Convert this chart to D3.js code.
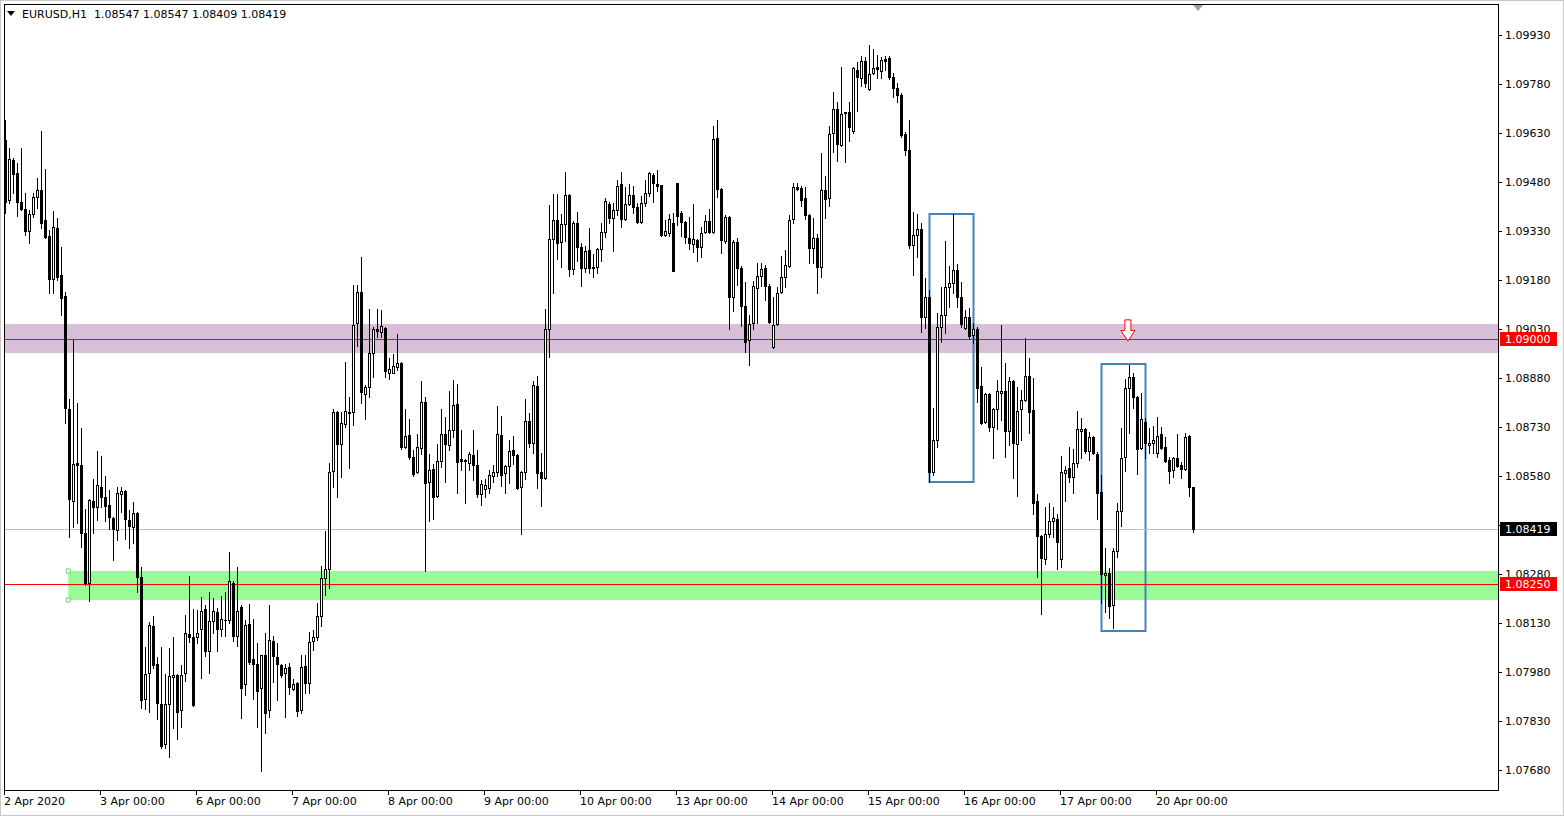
<!DOCTYPE html>
<html><head><meta charset="utf-8">
<script src="https://cdn.jsdelivr.net/npm/d3@7"></script>
<style>
body{margin:0;background:#fff;overflow:hidden}
svg{display:block}
text{font-family:"DejaVu Sans",sans-serif;font-size:11px;white-space:pre}
</style></head>
<body><svg id="chart" width="1564" height="816"></svg>
<script>
const symbol = "EURUSD";
const timeframe = "H1";
const barsPerDay = 24;
const timeLabels = ["2 Apr 2020","3 Apr 00:00","6 Apr 00:00","7 Apr 00:00","8 Apr 00:00","9 Apr 00:00","10 Apr 00:00","13 Apr 00:00","14 Apr 00:00","15 Apr 00:00","16 Apr 00:00","17 Apr 00:00","20 Apr 00:00"];
const priceTicks = [1.07680,1.07830,1.07980,1.08130,1.08280,1.08430,1.08580,1.08730,1.08880,1.09030,1.09180,1.09330,1.09480,1.09630,1.09780,1.09930];

const opens = [
1.09609,1.09425,1.09547,1.09507,1.09419,1.09397,1.09330,1.09382,1.09434,1.09455,
1.09364,1.09315,1.09183,1.09339,1.09195,1.09131,1.08785,1.08503,1.08620,1.08614,
1.08406,1.08252,1.08503,1.08485,1.08546,1.08516,1.08491,1.08451,1.08415,1.08525,
1.08534,1.08445,1.08424,1.08467,1.08271,1.07897,1.07977,1.08121,1.08005,1.07882,
1.07760,1.07882,1.07965,1.07971,1.07864,1.07977,1.08096,1.08087,1.08087,1.08112,
1.08173,1.08044,1.08136,1.08164,1.08112,1.08139,1.08139,1.08252,1.08090,1.08179,
1.07943,1.08127,1.08020,1.08005,1.07931,1.08032,1.07864,1.08075,1.08026,1.08001,
1.07977,1.07995,1.07928,1.07946,1.07864,1.07998,1.07946,1.08075,1.08087,1.08151,
1.08268,1.08295,1.08595,1.08776,1.08678,1.08739,1.08776,1.08776,1.09048,1.09143,
1.08831,1.08852,1.08956,1.09030,1.09021,1.09033,1.08895,1.08895,1.08914,1.08926,
1.08669,1.08706,1.08638,1.08592,1.08666,1.08807,1.08562,1.08601,1.08519,1.08626,
1.08709,1.08675,1.08721,1.08800,1.08632,1.08629,1.08620,1.08644,1.08614,1.08525,
1.08540,1.08543,1.08580,1.08592,1.08706,1.08589,1.08611,1.08660,1.08644,1.08546,
1.08592,1.08748,1.08681,1.08855,1.08592,1.08574,1.09030,1.09305,1.09364,1.09296,
1.09351,1.09440,1.09214,1.09354,1.09281,1.09217,1.09272,1.09220,1.09220,1.09275,
1.09327,1.09413,1.09370,1.09394,1.09474,1.09367,1.09413,1.09440,1.09403,1.09357,
1.09416,1.09446,1.09501,1.09474,1.09471,1.09318,1.09324,1.09354,1.09477,1.09385,
1.09357,1.09308,1.09290,1.09302,1.09281,1.09327,1.09361,1.09327,1.09615,1.09459,
1.09299,1.09373,1.09128,1.09296,1.09217,1.09100,1.08996,1.09048,1.09155,1.09192,
1.09217,1.09162,1.08975,1.09045,1.09143,1.09189,1.09223,1.09367,1.09465,1.09462,
1.09431,1.09379,1.09278,1.09308,1.09220,1.09455,1.09431,1.09630,1.09703,1.09593,
1.09691,1.09694,1.09636,1.09823,1.09798,1.09850,1.09765,1.09814,1.09832,1.09820,
1.09856,1.09860,1.09801,1.09768,1.09746,1.09627,1.09578,1.09287,1.09318,1.09336,
1.09067,1.09128,1.08592,1.08690,1.09036,1.09073,1.09158,1.09171,1.09210,1.09128,
1.09033,1.09067,1.09012,1.09030,1.08855,1.08745,1.08831,1.08730,1.08785,1.08834,
1.08840,1.08718,1.08871,1.08678,1.08785,1.08813,1.08886,1.08782,1.08503,1.08396,
1.08326,1.08402,1.08442,1.08448,1.08326,1.08589,1.08605,1.08577,1.08620,1.08718,
1.08724,1.08657,1.08699,1.08647,1.08531,1.08277,1.08283,1.08185,1.08350,1.08473,
1.08638,1.08849,1.08883,1.08822,1.08666,1.08745,1.08675,1.08681,1.08650,1.08709,
1.08669,1.08629,1.08598,1.08635,1.08614,1.08601,1.08702,1.08547];

const highs = [
1.09670,1.09584,1.09553,1.09538,1.09584,1.09446,1.09394,1.09446,1.09492,1.09636,
1.09520,1.09333,1.09391,1.09370,1.09281,1.09143,1.08816,1.08999,1.08803,1.08727,
1.08479,1.08510,1.08571,1.08657,1.08641,1.08580,1.08537,1.08455,1.08546,1.08546,
1.08537,1.08476,1.08500,1.08470,1.08301,1.08057,1.08133,1.08151,1.08026,1.08057,
1.07974,1.08054,1.08087,1.07974,1.08001,1.08155,1.08274,1.08173,1.08170,1.08210,
1.08185,1.08225,1.08207,1.08176,1.08213,1.08225,1.08347,1.08259,1.08301,1.08185,
1.08139,1.08188,1.08142,1.08069,1.08032,1.08099,1.08185,1.08090,1.08069,1.08005,
1.08005,1.08008,1.07959,1.07949,1.08032,1.08032,1.08102,1.08109,1.08191,1.08304,
1.08412,1.08620,1.08785,1.08779,1.08776,1.08929,1.08822,1.09165,1.09165,1.09250,
1.08859,1.09091,1.09036,1.09091,1.09088,1.09036,1.08941,1.08953,1.09015,1.08929,
1.08785,1.08754,1.08660,1.08709,1.08871,1.08822,1.08647,1.08617,1.08678,1.08785,
1.08761,1.08840,1.08874,1.08862,1.08721,1.08632,1.08653,1.08721,1.08660,1.08568,
1.08571,1.08598,1.08614,1.08794,1.08764,1.08614,1.08690,1.08702,1.08647,1.08595,
1.08816,1.08773,1.08871,1.08886,1.08650,1.09091,1.09410,1.09443,1.09443,1.09382,
1.09511,1.09443,1.09361,1.09388,1.09293,1.09284,1.09339,1.09260,1.09278,1.09354,
1.09431,1.09420,1.09416,1.09486,1.09511,1.09465,1.09474,1.09468,1.09416,1.09437,
1.09486,1.09510,1.09507,1.09517,1.09471,1.09364,1.09382,1.09385,1.09477,1.09391,
1.09361,1.09373,1.09413,1.09305,1.09342,1.09379,1.09397,1.09651,1.09670,1.09462,
1.09379,1.09376,1.09302,1.09308,1.09223,1.09174,1.09073,1.09177,1.09232,1.09232,
1.09226,1.09168,1.09128,1.09158,1.09253,1.09272,1.09379,1.09477,1.09477,1.09468,
1.09465,1.09382,1.09370,1.09321,1.09569,1.09498,1.09651,1.09755,1.09725,1.09832,
1.09694,1.09725,1.09832,1.09847,1.09866,1.09863,1.09899,1.09887,1.09869,1.09863,
1.09866,1.09866,1.09814,1.09783,1.09752,1.09633,1.09670,1.09388,1.09382,1.09354,
1.09186,1.09149,1.08788,1.09079,1.09158,1.09299,1.09223,1.09382,1.09229,1.09174,
1.09088,1.09094,1.09048,1.09036,1.08914,1.08834,1.08834,1.08788,1.08874,1.09042,
1.08926,1.08883,1.08874,1.08852,1.08843,1.09002,1.08941,1.08880,1.08525,1.08399,
1.08485,1.08497,1.08485,1.08464,1.08641,1.08611,1.08669,1.08663,1.08779,1.08758,
1.08727,1.08715,1.08702,1.08653,1.08583,1.08360,1.08298,1.08360,1.08497,1.08727,
1.08877,1.08920,1.08895,1.08825,1.08834,1.08758,1.08727,1.08733,1.08761,1.08730,
1.08699,1.08638,1.08638,1.08709,1.08623,1.08712,1.08706,1.08547];

const lows = [
1.09385,1.09416,1.09446,1.09376,1.09394,1.09318,1.09293,1.09373,1.09400,1.09339,
1.09308,1.09140,1.09140,1.09180,1.09073,1.08742,1.08393,1.08424,1.08436,1.08363,
1.08246,1.08197,1.08406,1.08445,1.08485,1.08442,1.08418,1.08323,1.08384,1.08470,
1.08387,1.08360,1.08375,1.08225,1.07870,1.07867,1.07858,1.07992,1.07836,1.07747,
1.07747,1.07720,1.07809,1.07775,1.07812,1.07953,1.08072,1.07876,1.08069,1.07962,
1.08029,1.07977,1.08099,1.08044,1.08090,1.08090,1.08130,1.08075,1.08060,1.07839,
1.07910,1.08005,1.07897,1.07812,1.07678,1.07793,1.07842,1.07949,1.07894,1.07965,
1.07842,1.07913,1.07925,1.07845,1.07855,1.07916,1.07916,1.08047,1.08078,1.08121,
1.08216,1.08237,1.08546,1.08516,1.08577,1.08730,1.08605,1.08736,1.08978,1.08803,
1.08754,1.08822,1.08883,1.09005,1.09005,1.08883,1.08877,1.08895,1.08904,1.08663,
1.08666,1.08632,1.08580,1.08589,1.08647,1.08289,1.08442,1.08448,1.08516,1.08608,
1.08562,1.08660,1.08699,1.08528,1.08598,1.08497,1.08598,1.08568,1.08516,1.08491,
1.08516,1.08528,1.08562,1.08580,1.08549,1.08528,1.08559,1.08617,1.08540,1.08402,
1.08571,1.08669,1.08650,1.08543,1.08488,1.08571,1.08944,1.09140,1.09244,1.09220,
1.09299,1.09192,1.09198,1.09238,1.09162,1.09204,1.09201,1.09189,1.09201,1.09238,
1.09311,1.09354,1.09269,1.09379,1.09342,1.09364,1.09410,1.09385,1.09354,1.09354,
1.09406,1.09437,1.09419,1.09452,1.09315,1.09315,1.09315,1.09207,1.09348,1.09315,
1.09293,1.09275,1.09266,1.09238,1.09250,1.09324,1.09324,1.09324,1.09434,1.09263,
1.09293,1.09030,1.09085,1.09165,1.09039,1.08960,1.08920,1.09030,1.09048,1.09162,
1.09119,1.09048,1.08972,1.09042,1.09140,1.09158,1.09220,1.09354,1.09456,1.09406,
1.09367,1.09232,1.09232,1.09140,1.09189,1.09370,1.09406,1.09572,1.09544,1.09590,
1.09541,1.09605,1.09630,1.09697,1.09774,1.09771,1.09762,1.09811,1.09798,1.09798,
1.09823,1.09795,1.09740,1.09725,1.09618,1.09563,1.09278,1.09195,1.09250,1.09021,
1.09033,1.08562,1.08583,1.08669,1.08990,1.09018,1.09097,1.09140,1.09097,1.09036,
1.09030,1.09002,1.08987,1.08807,1.08739,1.08742,1.08718,1.08635,1.08724,1.08751,
1.08638,1.08675,1.08574,1.08519,1.08690,1.08810,1.08712,1.08464,1.08271,1.08158,
1.08311,1.08393,1.08393,1.08295,1.08301,1.08503,1.08562,1.08528,1.08608,1.08635,
1.08650,1.08629,1.08647,1.08448,1.08191,1.08164,1.08145,1.08115,1.08332,1.08427,
1.08595,1.08712,1.08788,1.08586,1.08663,1.08635,1.08650,1.08650,1.08638,1.08663,
1.08623,1.08559,1.08577,1.08608,1.08574,1.08598,1.08519,1.08409];

const closes = [
1.09419,1.09550,1.09504,1.09419,1.09397,1.09330,1.09382,1.09434,1.09455,1.09354,
1.09311,1.09183,1.09342,1.09189,1.09125,1.08788,1.08510,1.08617,1.08614,1.08406,
1.08252,1.08507,1.08485,1.08552,1.08516,1.08488,1.08455,1.08418,1.08528,1.08534,
1.08448,1.08427,1.08467,1.08271,1.07894,1.07974,1.08124,1.08001,1.07885,1.07754,
1.07882,1.07968,1.07971,1.07858,1.07971,1.08099,1.08087,1.07879,1.08099,1.08167,
1.08044,1.08136,1.08167,1.08112,1.08142,1.08139,1.08259,1.08090,1.08167,1.07931,
1.08124,1.08011,1.08005,1.07922,1.08032,1.07855,1.08078,1.08029,1.08005,1.07971,
1.07992,1.07934,1.07943,1.07861,1.07995,1.07946,1.08072,1.08087,1.08151,1.08268,
1.08295,1.08592,1.08776,1.08678,1.08742,1.08779,1.08773,1.09042,1.09143,1.08837,
1.08852,1.08956,1.09030,1.09024,1.09039,1.08901,1.08908,1.08917,1.08926,1.08669,
1.08702,1.08638,1.08586,1.08669,1.08807,1.08559,1.08598,1.08516,1.08626,1.08709,
1.08678,1.08721,1.08797,1.08623,1.08626,1.08626,1.08647,1.08614,1.08525,1.08556,
1.08552,1.08583,1.08592,1.08709,1.08583,1.08611,1.08657,1.08644,1.08543,1.08592,
1.08748,1.08681,1.08859,1.08589,1.08574,1.09030,1.09305,1.09364,1.09293,1.09351,
1.09440,1.09214,1.09354,1.09281,1.09217,1.09269,1.09217,1.09217,1.09275,1.09327,
1.09422,1.09370,1.09394,1.09468,1.09367,1.09413,1.09440,1.09403,1.09357,1.09416,
1.09446,1.09507,1.09477,1.09468,1.09318,1.09330,1.09367,1.09207,1.09376,1.09357,
1.09311,1.09293,1.09305,1.09281,1.09324,1.09361,1.09327,1.09612,1.09459,1.09302,
1.09373,1.09128,1.09296,1.09217,1.09100,1.08990,1.09045,1.09162,1.09192,1.09214,
1.09162,1.09051,1.09042,1.09140,1.09189,1.09226,1.09364,1.09465,1.09459,1.09425,
1.09379,1.09278,1.09308,1.09220,1.09455,1.09428,1.09627,1.09703,1.09596,1.09688,
1.09694,1.09648,1.09829,1.09801,1.09850,1.09783,1.09811,1.09829,1.09826,1.09853,
1.09850,1.09801,1.09768,1.09746,1.09624,1.09578,1.09287,1.09318,1.09336,1.09067,
1.09128,1.08592,1.08690,1.09036,1.09073,1.09158,1.09171,1.09210,1.09128,1.09045,
1.09067,1.09009,1.09030,1.08849,1.08742,1.08831,1.08730,1.08785,1.08840,1.08840,
1.08718,1.08871,1.08681,1.08779,1.08813,1.08886,1.08776,1.08497,1.08396,1.08329,
1.08402,1.08442,1.08451,1.08378,1.08592,1.08598,1.08577,1.08620,1.08724,1.08724,
1.08657,1.08699,1.08650,1.08528,1.08280,1.08283,1.08182,1.08350,1.08473,1.08635,
1.08849,1.08883,1.08822,1.08663,1.08754,1.08681,1.08681,1.08690,1.08702,1.08666,
1.08626,1.08595,1.08635,1.08611,1.08601,1.08699,1.08547,1.08419];

// chart objects (prices + bar indices)
const zoneTops    = [1.09045, 1.08290];
const zoneBottoms = [1.08958, 1.08201];
const zoneStarts  = [null, 15.7];
const zoneColors  = ["#d8bfd8", "#98fb98"];
const boxStart  = [231, 274];
const boxEnd    = [242, 285];
const boxTop    = [1.09382, 1.08923];
const boxBottom = [1.08562, 1.08106];
const levelPrices = [1.09000, 1.08250];
const arrowBar = 280.6, arrowTip = 1.08993, arrowTop = 1.09058;

const svg = d3.select("#chart");
const L = 4, T = 4, R = 1498, B = 790;
const n = closes.length;
const x = d3.scaleLinear().domain([0, n - 1]).range([5.5, 5.5 + 4 * (n - 1)]);
const y = d3.scaleLinear().domain([1.07680, 1.09930]).range([770, 35]);
const py = v => Math.round(y(v));

svg.append("rect").attr("width",1564).attr("height",816).attr("fill","#fff");
svg.append("defs").append("clipPath").attr("id","clip").append("rect")
  .attr("x",L+1).attr("y",T+1).attr("width",R-L-1).attr("height",B-T-1);
const g = svg.append("g").attr("clip-path","url(#clip)");

// zones
zoneTops.forEach((t,k)=>{
  const x0 = zoneStarts[k]==null ? L : x(zoneStarts[k]);
  g.append("rect").attr("x",x0).attr("y",py(t)).attr("width",R-x0).attr("height",py(zoneBottoms[k])-py(t))
   .attr("fill",zoneColors[k]);
});
// boxes
boxStart.forEach((s,k)=>{
  g.append("rect").attr("x",x(s)).attr("y",py(boxTop[k])).attr("width",x(boxEnd[k])-x(s))
   .attr("height",py(boxBottom[k])-py(boxTop[k])).attr("fill","none").attr("stroke","#4682b4").attr("stroke-width",2);
});
// level lines
levelPrices.forEach(p=>{
  g.append("line").attr("x1",L).attr("x2",R).attr("y1",py(p)+0.5).attr("y2",py(p)+0.5).attr("stroke","#ff0000").attr("stroke-width",1);
});
// bid line
const bid = closes[n-1];
g.append("line").attr("x1",L).attr("x2",R).attr("y1",py(bid)+0.5).attr("y2",py(bid)+0.5).attr("stroke","#c0c0c0");

// candles
const idx = d3.range(n);
const cg = g.append("g");
idx.forEach(i=>{
  const cx = x(i);
  const yh = py(highs[i]), yl = py(lows[i]);
  cg.append("rect").attr("x",cx-0.5).attr("y",yh).attr("width",1).attr("height",Math.max(1,yl-yh+1)).attr("fill","#000");
  const o = opens[i], c = closes[i];
  const yt = py(Math.max(o,c)), yb = py(Math.min(o,c));
  if (c > o && yb - yt >= 2) {
    cg.append("rect").attr("x",cx-1).attr("y",yt+0.5).attr("width",2).attr("height",yb-yt)
      .attr("fill","#fff").attr("stroke","#000").attr("stroke-width",1);
  } else {
    cg.append("rect").attr("x",cx-1.5).attr("y",yt).attr("width",3).attr("height",Math.max(1,yb-yt+1)).attr("fill","#000");
  }
});

// arrow (hollow, pointing down)
const ax = x(arrowBar), ayT = y(arrowTop), ayB = y(arrowTip);
const ah = ayB - ayT;
const arrowPath = d3.path();
arrowPath.moveTo(ax-3, ayT); arrowPath.lineTo(ax+3, ayT); arrowPath.lineTo(ax+3, ayT+ah*0.5);
arrowPath.lineTo(ax+7, ayT+ah*0.5); arrowPath.lineTo(ax, ayB); arrowPath.lineTo(ax-7, ayT+ah*0.5);
arrowPath.lineTo(ax-3, ayT+ah*0.5); arrowPath.closePath();
g.append("path").attr("d",arrowPath.toString()).attr("fill","#fff").attr("stroke","#ff0000").attr("stroke-width",1);

// selection handles of green zone
[zoneTops[1], zoneBottoms[1]].forEach(p=>{
  g.append("rect").attr("x",x(zoneStarts[1])-2).attr("y",py(p)-2).attr("width",4).attr("height",4)
   .attr("fill","#fff").attr("stroke","#7ccd7c").attr("stroke-width",1);
});

// frame
svg.append("rect").attr("x",L+0.5).attr("y",T+0.5).attr("width",R-L).attr("height",B-T)
  .attr("fill","none").attr("stroke","#000");
svg.append("rect").attr("x",0.5).attr("y",0.5).attr("width",1563).attr("height",815).attr("fill","none").attr("stroke","#c8c8c8");

// price labels boxes (for lines) — axis labels hidden behind them are skipped
const boxPrices = levelPrices.concat([bid]);
// price axis
priceTicks.forEach(p=>{
  svg.append("line").attr("x1",R+1).attr("x2",R+4).attr("y1",py(p)+0.5).attr("y2",py(p)+0.5).attr("stroke","#000");
  const hidden = boxPrices.some(b => Math.abs(py(b) - py(p)) < 8);
  if (!hidden) svg.append("text").attr("x",R+7).attr("y",py(p)).attr("dy","0.36em").attr("fill","#000").text(p.toFixed(5));
});
// time axis
timeLabels.forEach((lab,k)=>{
  const tx = Math.round(x(k*barsPerDay) - 1.5);
  svg.append("line").attr("x1",tx+0.5).attr("x2",tx+0.5).attr("y1",B).attr("y2",B+5).attr("stroke","#000");
  svg.append("text").attr("x",tx).attr("y",B+15).attr("fill","#000").text(lab);
});

function priceBox(p, bg){
  const yy = py(p);
  svg.append("rect").attr("x",R+2).attr("y",yy-7).attr("width",57).attr("height",14).attr("fill",bg);
  svg.append("text").attr("x",R+7).attr("y",yy).attr("dy","0.36em").attr("fill","#fff").text(p.toFixed(5));
}
levelPrices.forEach(p=>priceBox(p,"#ff0000"));
priceBox(bid,"#000");

// header
svg.append("path").attr("d","M7,11 L15,11 L11,16 Z").attr("fill","#000");
svg.append("text").attr("x",22).attr("y",18).attr("fill","#000")
  .text(`${symbol},${timeframe}  ${opens[n-1].toFixed(5)} ${highs[n-1].toFixed(5)} ${lows[n-1].toFixed(5)} ${closes[n-1].toFixed(5)}`);

// chart shift marker
const sx = x(n) + 0.5;
svg.append("path").attr("d",`M${sx-5},${T+1} L${sx+5},${T+1} L${sx},${T+7} Z`).attr("fill","#a0a0a0");
</script></body></html>
